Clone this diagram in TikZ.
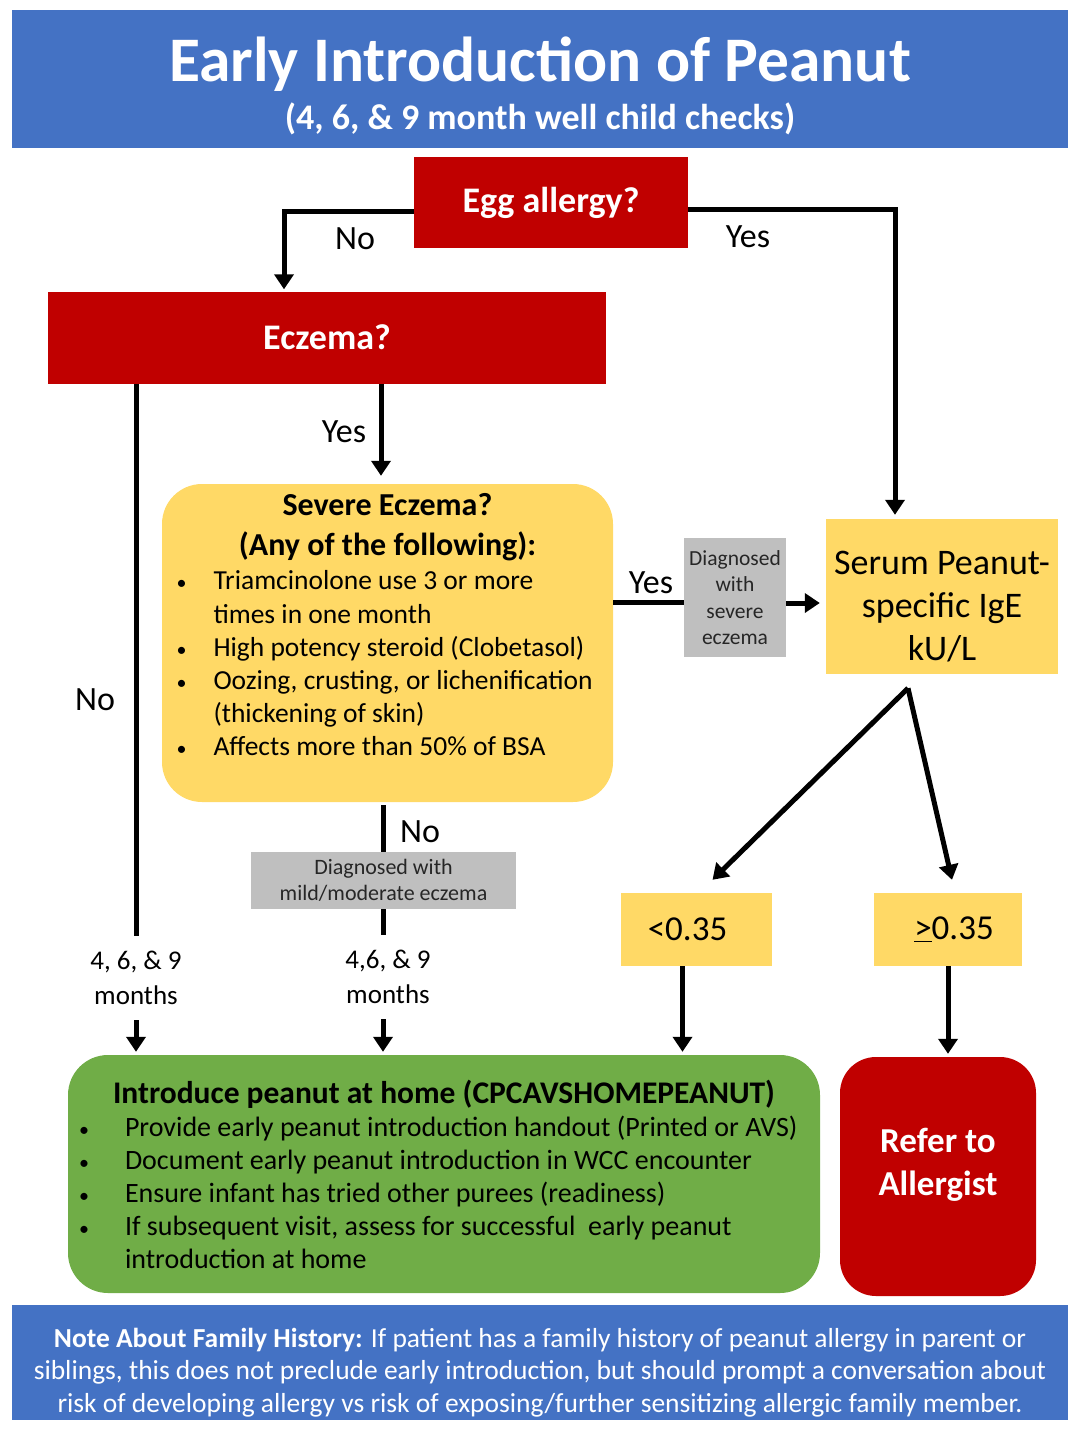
\documentclass[tikz,border=0pt]{standalone}
\usepackage{fontspec}
\setmainfont{Carlito}
\usetikzlibrary{arrows.meta,calc}
\definecolor{hblue}{HTML}{4472C4}
\definecolor{dred}{HTML}{C00000}
\definecolor{ylw}{HTML}{FFD966}
\definecolor{grn}{HTML}{70AD47}
\definecolor{gry}{HTML}{BFBFBF}
\newcommand\myfs[2]{\fontsize{#1}{#2}\selectfont}
\newcommand\bul[1]{\hspace*{#1}\makebox[37pt][l]{\myfs{20}{20}\textbullet}}
\tikzset{
  band/.style={fill=hblue,text=white,inner sep=0pt,minimum width=1056pt},
  redbox/.style={fill=dred,text=white,font=\bfseries\myfs{36}{40},inner sep=0pt},
  ybox/.style={fill=ylw,text=black,inner sep=0pt},
  gbox/.style={fill=gry,text=black!85,inner sep=0pt,align=center},
  lbl/.style={text=black,font=\myfs{34}{36},inner sep=0pt},
  mlbl/.style={text=black,font=\myfs{27}{35},align=center,inner sep=0pt,minimum height=84pt},
  conn/.style={line width=5pt,black},
  arr/.style={conn,-{Triangle[length=15pt,width=19pt]}},
}
\begin{document}
\begin{tikzpicture}[x=1pt,y=-1pt]
\useasboundingbox (0,0) rectangle (1068,1429);

% header
\node[band,minimum height=138pt] (head) at (540,79)
  {\parbox{1040pt}{\centering\vspace*{13pt}\bfseries
   {\myfs{63.5}{70}Early Introduction of Peanut\par}
   {\myfs{36}{48}(4, 6, \& 9 month well child checks)\par}}};

% decision boxes
\node[redbox,minimum width=274pt,minimum height=91pt] (egg) at (551,202.5) {Egg allergy?};
\node[redbox,minimum width=558pt,minimum height=92pt] (ecz) at (327,337.5) {Eczema?};

% severe eczema
\node[ybox,rounded corners=40pt,minimum width=451pt,minimum height=318pt] (sev) at (387.5,643)
  {\parbox[c][300pt][t]{440pt}{%
    {\centering\bfseries\myfs{32}{40}Severe Eczema?\\(Any of the following):\par}%
    \vspace{1.5pt}\myfs{27.5}{33.2}%
    \bul{9pt}Triamcinolone use 3 or more\\
    \hspace*{46pt}times in one month\\
    \bul{9pt}High potency steroid (Clobetasol)\\
    \bul{9pt}Oozing, crusting, or lichenification\\
    \hspace*{46pt}(thickening of skin)\\
    \bul{9pt}Affects more than 50\% of BSA}};

% gray notes
\node[gbox,minimum width=102pt,minimum height=119pt,font=\myfs{21.5}{26.5}] (g1) at (735,597.5)
  {Diagnosed\\with\\severe\\eczema};
\node[gbox,minimum width=265pt,minimum height=57pt,font=\myfs{22}{26}] (g2) at (383.5,880.5)
  {Diagnosed with\\mild/moderate eczema};

% serum
\node[ybox,minimum width=232pt,minimum height=155pt] (serum) at (942,596.5)
  {\parbox{226pt}{\centering\vspace*{20pt}\myfs{36}{43}Serum Peanut-\\specific IgE\\kU/L}};

% thresholds
\node[ybox,minimum width=151pt,minimum height=73pt,font=\myfs{35}{38}] (lt) at (696.5,929.5) {<0.35\hspace*{18pt}};
\node[ybox,minimum width=148pt,minimum height=73pt,font=\myfs{35}{38}] (ge) at (948,929.5) {\hspace*{12pt}\underline{>}0.35};

% outcomes
\node[fill=grn,rounded corners=40pt,minimum width=752pt,minimum height=238pt,inner sep=0pt] (green) at (444,1174)
  {\parbox{736pt}{%
    {\centering\bfseries\myfs{31.5}{34}Introduce peanut at home (CPCAVSHOMEPEANUT)\par}%
    \myfs{28}{33}%
    \bul{3pt}\hspace*{9pt}Provide early peanut introduction handout (Printed or AVS)\\
    \bul{3pt}\hspace*{9pt}Document early peanut introduction in WCC encounter\\
    \bul{3pt}\hspace*{9pt}Ensure infant has tried other purees (readiness)\\
    \bul{3pt}\hspace*{9pt}If subsequent visit, assess for successful\ \ early peanut\\
    \hspace*{49pt}introduction at home}};
\node[fill=dred,text=white,rounded corners=36pt,minimum width=196pt,minimum height=239pt,inner sep=0pt] (refer) at (938,1176.5)
  {\parbox{190pt}{\centering\bfseries\myfs{35}{43}Refer to\\Allergist\par\vspace*{24pt}}};

% footer
\node[band,minimum height=115pt] (foot) at (540,1362.5)
  {\parbox{1056pt}{\centering\vspace*{20pt}\myfs{27.5}{32.5}%
   \textbf{Note About Family History:} If patient has a family history of peanut allergy in parent or\\
   siblings, this does not preclude early introduction, but should prompt a conversation about\\
   risk of developing allergy vs risk of exposing/further sensitizing allergic family member.}};

% month labels
\node[mlbl] (m1) at (136,978) {4, 6, \& 9\\months};
\node[mlbl] (m2) at (388,977) {4,6, \& 9\\months};

% connectors
\draw[arr] ($(egg.west)+(0,8.5)$) -| ($(ecz.north)+(-43,-2)$);
\node[lbl] at (355,239) {No};
\draw[arr] ($(egg.east)+(0,6.5)$) -| ($(serum.north)+(-47,-4)$);
\node[lbl] at (748,237) {Yes};

\draw[arr] ($(ecz.south)+(54,0)$) -- ($(sev.north)+(-6.5,-8)$);
\node[lbl] at (344,432) {Yes};

\draw[conn] ($(ecz.south)+(-191,0)$) -- (m1.north);
\draw[arr] (m1.south) -- ($(m1.south |- green.north)+(0,-3)$);
\node[lbl] at (95,700) {No};

\draw[conn] ($(sev.east)+(0,-41)$) -- ($(g1.west)+(0,4.5)$);
\node[lbl] at (651,583) {Yes};
\draw[arr] ($(g1.east)+(0,5.5)$) -- ($(serum.west)+(-6,6.5)$);

\draw[conn] ($(sev.south)+(-4.5,3)$) -- ($(g2.north)+(-0.5,0)$);
\node[lbl] at (420,832) {No};
\draw[conn] ($(g2.south)+(-0.5,0)$) -- ($(m2.north)+(-5,0)$);
\draw[arr] ($(m2.south)+(-5,0)$) -- ($(m2.south |- green.north)+(-5,-3)$);

\coordinate (split) at ($(serum.south)+(-34,14)$);
\draw[arr] (split) -- ($(lt.north)+(16,-13)$);
\draw[arr] (split) -- ($(ge.north)+(4,-13)$);

\draw[arr] ($(lt.south)+(-14,0)$) -- ($(lt.south |- green.north)+(-14,-3)$);
\draw[arr] (ge.south) -- ($(ge.south |- refer.north)+(0,-3)$);
\end{tikzpicture}
\end{document}
